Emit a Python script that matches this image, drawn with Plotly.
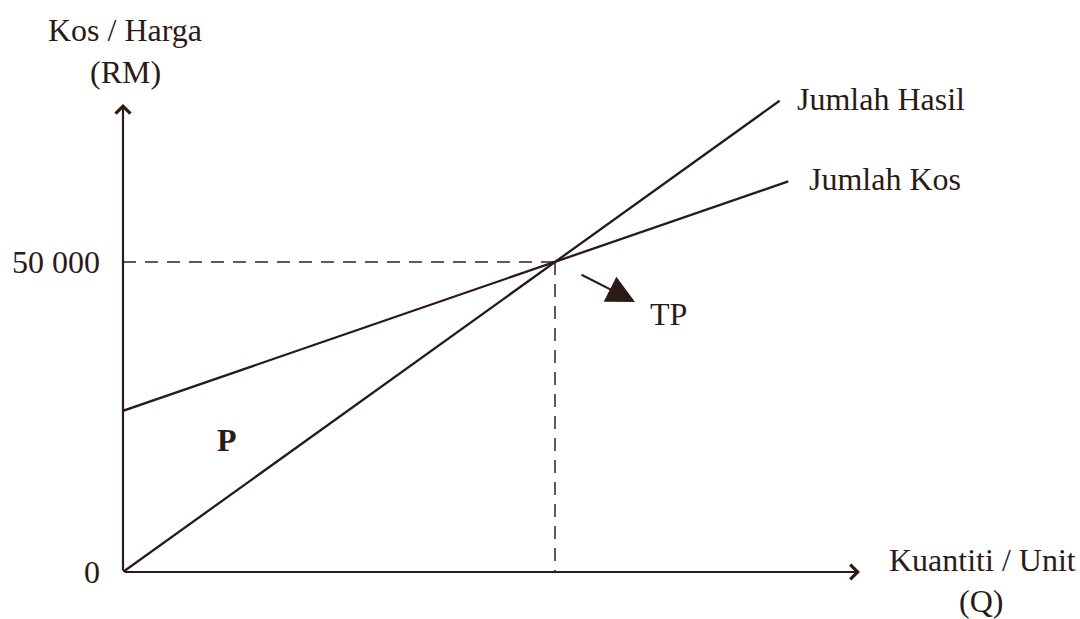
import plotly.graph_objs as go

# titik pulang modal (break-even) chart

quantity_hasil = [0, 100, 152]
jumlah_hasil = [0, 50000, 76000]

quantity_kos = [0, 100, 154]
jumlah_kos = [26000, 50000, 63000]

break_even_q = 100
break_even_value = 50000

y_ticks = [0, 50000]
y_tick_text = ["0", "50 000"]

x_axis_end = 170.6
y_axis_end = 75500

# pixel scale of the drawing (origin at 123,572)
PX_PER_Q = 4.32
PX_PER_V = 310 / 50000
W, H = 1080, 619
L, B = 123, 47


def px(x):
    # page pixel -> paper x
    return (x - L) / (W - L)


def py(y):
    # page pixel -> paper y
    return (H - B - y) / (H - B)


ink = "#2a1b17"
font = dict(family="Liberation Serif, Times New Roman, serif", size=32, color=ink)

fig = go.Figure()

dash = dict(color="#5e5a58", width=2, dash="13px,9px")
fig.add_trace(go.Scatter(x=[0, break_even_q], y=[break_even_value, break_even_value],
                         mode="lines", line=dash, hoverinfo="skip"))
fig.add_trace(go.Scatter(x=[break_even_q, break_even_q], y=[break_even_value, 0],
                         mode="lines", line=dash, hoverinfo="skip"))

fig.add_trace(go.Scatter(x=quantity_kos, y=jumlah_kos, mode="lines",
                         line=dict(color=ink, width=2.3), name="Jumlah Kos"))
fig.add_trace(go.Scatter(x=quantity_hasil, y=jumlah_hasil, mode="lines",
                         line=dict(color=ink, width=2.3), name="Jumlah Hasil"))

ann = []
# axes with arrows
ann.append(dict(x=0, y=y_axis_end, ax=0, ay=0, xref="x", yref="y", axref="x", ayref="y",
                text="", showarrow=True, arrowhead=4, arrowsize=1.3, arrowwidth=2.2,
                arrowcolor=ink, standoff=0, startstandoff=0))
ann.append(dict(x=x_axis_end, y=0, ax=0, ay=0, xref="x", yref="y", axref="x", ayref="y",
                text="", showarrow=True, arrowhead=4, arrowsize=1.3, arrowwidth=2.2,
                arrowcolor=ink, standoff=0, startstandoff=0))
# TP arrow
ann.append(dict(x=(635 - L) / PX_PER_Q, y=(H - B - 302) / PX_PER_V,
                ax=(580 - L) / PX_PER_Q, ay=(H - B - 274) / PX_PER_V,
                xref="x", yref="y", axref="x", ayref="y", text="", showarrow=True,
                arrowhead=2, arrowsize=2.8, arrowwidth=2, arrowcolor=ink, standoff=0))

# tick labels
for v, t in zip(y_ticks, y_tick_text):
    ann.append(dict(x=px(102), y=v / ((H - B) / PX_PER_V), xref="paper", yref="paper",
                    text=t, showarrow=False, xanchor="right", yanchor="middle", font=font))

labels = [
    ("Kos / Harga", 125, 30, False),
    ("(RM)", 125, 72, False),
    ("Jumlah Hasil", 881, 99, False),
    ("Jumlah Kos", 885, 179, False),
    ("TP", 668, 314, False),
    ("P", 227, 440, True),
    ("Kuantiti / Unit", 982, 560, False),
    ("(Q)", 981, 601, False),
]
for t, x, y, bold in labels:
    ann.append(dict(x=px(x), y=py(y), xref="paper", yref="paper",
                    text=f"<b>{t}</b>" if bold else t, showarrow=False,
                    xanchor="center", yanchor="middle", font=font))

fig.update_layout(
    width=W, height=H,
    margin=dict(l=L, r=0, t=0, b=B, pad=0),
    paper_bgcolor="white", plot_bgcolor="white",
    showlegend=False,
    annotations=ann,
    xaxis=dict(range=[0, (W - L) / PX_PER_Q], visible=False, fixedrange=True),
    yaxis=dict(range=[0, (H - B) / PX_PER_V], visible=False, fixedrange=True),
)

fig.write_html("out.html", config={"displayModeBar": False},
               post_script="document.body.style.margin='0';document.body.style.overflow='hidden';")
